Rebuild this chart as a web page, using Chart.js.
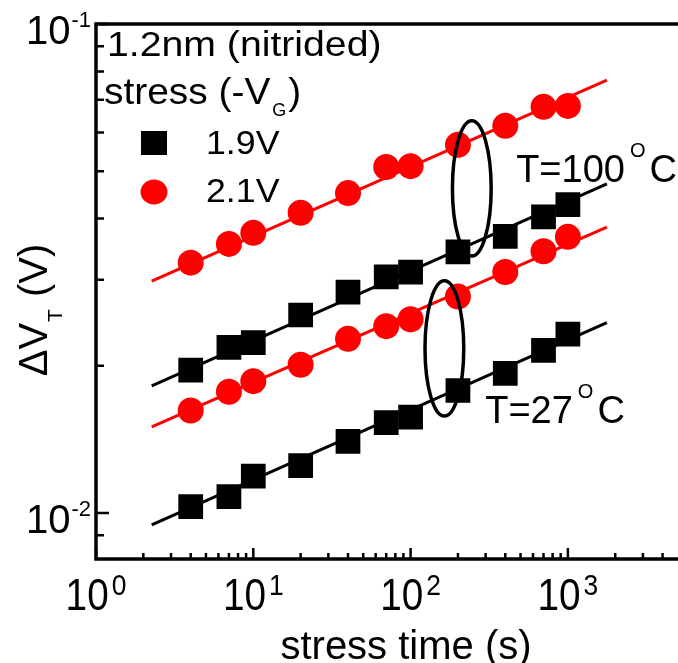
<!DOCTYPE html>
<html>
<head>
<meta charset="utf-8">
<script src="https://cdn.jsdelivr.net/npm/chart.js@4.4.1/dist/chart.umd.min.js"></script>
<style>
  html, body { margin: 0; padding: 0; background: #fff; }
  #wrap { width: 678px; height: 663px; }
</style>
</head>
<body>
<div id="wrap"><canvas id="chart" width="678" height="663"></canvas></div>
<script>
// stress time (s) of every measurement
const stressTimes = [4, 7, 10, 20, 40, 70, 100, 200, 400, 700, 1000];

// dVT (V)
const hot19V  = [0.0196, 0.0218, 0.0223, 0.0254, 0.0283, 0.0304, 0.0311, 0.0342, 0.0368, 0.0403, 0.0427];
const hot21V  = [0.0325, 0.0355, 0.0374, 0.0411, 0.0451, 0.0510, 0.0512, 0.0566, 0.0619, 0.0677, 0.0680];
const room19V = [0.0103, 0.0108, 0.0119, 0.0125, 0.0140, 0.0153, 0.0157, 0.0178, 0.0193, 0.0215, 0.0232];
const room21V = [0.0162, 0.0177, 0.0186, 0.0201, 0.0227, 0.0241, 0.0249, 0.0277, 0.0311, 0.0343, 0.0367];

// power-law fits (end points)
const fitTimes   = [2.26, 1770];
const fitHot19V  = [0.0182, 0.0471];
const fitHot21V  = [0.0298, 0.0768];
const fitRoom19V = [0.00945, 0.0245];
const fitRoom21V = [0.0150, 0.0384];

// axis ticks
const xTicks = [1, 10, 100, 1000];
const xTickExp = ['0', '1', '2', '3'];
const yTicks = [0.01, 0.1];
const yTickExp = ['-2', '-1'];

// temperature groups (ellipse centre, label anchor)
const groupNames = ['T=100', 'T=27'];
const groupT = [245, 164];
const groupV = [0.0461, 0.0217];
const groupLabelT = [469, 298];
const groupLabelV = [0.0475, 0.01528];

const FONT = '"Liberation Sans", Arial, sans-serif';

function pts(xs, ys) {
    return xs.map((t, i) => ({ x: t, y: ys[i] }));
}

function txt(ctx, s, x, y, size, sx = 1, align = 'left') {
    ctx.save();
    ctx.font = size + 'px ' + FONT;
    ctx.textAlign = 'left';
    ctx.textBaseline = 'alphabetic';
    ctx.fillStyle = '#000';
    const w = ctx.measureText(s).width * sx;
    const x0 = align === 'right' ? x - w : (align === 'center' ? x - w / 2 : x);
    ctx.translate(x0, y);
    ctx.scale(sx, 1);
    ctx.fillText(s, 0, 0);
    ctx.restore();
    return w;
}

function measure(ctx, s, size, sx = 1) {
    ctx.save();
    ctx.font = size + 'px ' + FONT;
    const w = ctx.measureText(s).width * sx;
    ctx.restore();
    return w;
}

const decor = {
    id: 'decor',
    afterDatasetsDraw(chart) {
        const { ctx, chartArea: a, scales: { x, y } } = chart;
        const edge = chart.width;
        ctx.save();

        // ellipses round each temperature group
        ctx.strokeStyle = '#000';
        ctx.lineWidth = 3.5;
        groupT.forEach((t, i) => {
            const cx = x.getPixelForValue(t);
            const cy = y.getPixelForValue(groupV[i]);
            const rx = x.getPixelForValue(t * 1.328) - cx;
            const ry = cy - y.getPixelForValue(groupV[i] * 1.375);
            ctx.beginPath();
            ctx.ellipse(cx, cy, rx, ry, 0, 0, Math.PI * 2);
            ctx.stroke();
        });

        // temperature labels
        groupNames.forEach((n, i) => {
            const lx = x.getPixelForValue(groupLabelT[i]);
            const ly = y.getPixelForValue(groupLabelV[i]);
            let w = txt(ctx, n, lx, ly, 38);
            w += 5;
            w += txt(ctx, 'O', lx + w, ly - 25, 20);
            w += 4;
            txt(ctx, 'C', lx + w, ly, 38);
        });

        // frame (left, top, bottom) running to the picture's edge
        ctx.lineWidth = 3.5;
        ctx.lineJoin = 'miter';
        ctx.beginPath();
        ctx.moveTo(edge, a.top);
        ctx.lineTo(a.left, a.top);
        ctx.lineTo(a.left, a.bottom);
        ctx.lineTo(edge, a.bottom);
        ctx.stroke();

        // inward ticks
        ctx.lineWidth = 2.5;
        ctx.beginPath();
        for (let d = 0; d <= 3; d++) {
            for (let m = 1; m <= 9; m++) {
                const px = x.getPixelForValue(m * Math.pow(10, d));
                if (px > edge - 2) break;
                const len = m === 1 ? 11 : 6;
                ctx.moveTo(px, a.bottom);
                ctx.lineTo(px, a.bottom - len);
            }
        }
        for (let d = -3; d <= -1; d++) {
            for (let m = 1; m <= 9; m++) {
                const v = m * Math.pow(10, d);
                if (v < y.min * 0.999 || v > y.max * 1.001) continue;
                const py = y.getPixelForValue(v);
                const len = m === 1 ? 13 : 8;
                ctx.moveTo(a.left, py);
                ctx.lineTo(a.left + len, py);
            }
        }
        ctx.stroke();

        // x tick labels
        xTicks.forEach((v, i) => {
            const px = x.getPixelForValue(v);
            const w10 = measure(ctx, '10', 44, 0.88);
            const ws = measure(ctx, xTickExp[i], 30, 0.88);
            const start = px - (w10 + 3 + ws) / 2;
            txt(ctx, '10', start, a.bottom + 51, 44, 0.88);
            txt(ctx, xTickExp[i], start + w10 + 3, a.bottom + 36, 30, 0.88);
        });

        // y tick labels
        yTicks.forEach((v, i) => {
            const py = y.getPixelForValue(v);
            const right = a.left - 5;
            const ws = txt(ctx, yTickExp[i], right, py + 3, 22, 1, 'right');
            txt(ctx, '10', right - ws - 1, py + 20, 40, 1, 'right');
        });

        // axis titles
        txt(ctx, 'stress time (s)', 406, a.bottom + 100, 40, 1, 'center');

        ctx.save();
        ctx.translate(a.left - 49, 310);
        ctx.rotate(-Math.PI / 2);
        const w1 = measure(ctx, '\u0394V', 40);
        const w2 = measure(ctx, 'T', 21);
        const w3 = measure(ctx, ' (V)', 40);
        let sx0 = -(w1 + w2 + w3 + 2) / 2;
        txt(ctx, '\u0394V', sx0, 0, 40);
        txt(ctx, 'T', sx0 + w1 + 1, 15, 21);
        txt(ctx, ' (V)', sx0 + w1 + w2 + 2, 0, 40);
        ctx.restore();

        // legend block
        txt(ctx, '1.2nm (nitrided)', a.left + 11, a.top + 32, 35, 1.12);
        let w = txt(ctx, 'stress (-V', a.left + 8, a.top + 80, 36, 1.08);
        w += txt(ctx, 'G', a.left + 10 + w, a.top + 92, 18);
        txt(ctx, ')', a.left + 12 + w, a.top + 80, 36, 1.08);

        ctx.fillStyle = '#000';
        ctx.fillRect(a.left + 45, a.top + 107, 26, 24);
        txt(ctx, '1.9V', a.left + 110, a.top + 130, 34, 1.05);
        ctx.fillStyle = '#ff0000';
        ctx.beginPath();
        ctx.ellipse(a.left + 58, a.top + 168, 13.5, 12.5, 0, 0, Math.PI * 2);
        ctx.fill();
        txt(ctx, '2.1V', a.left + 110, a.top + 178, 34, 1.05);

        ctx.restore();
    }
};

const lineStyle = { showLine: true, pointRadius: 0, borderWidth: 3, fill: false, order: 2 };
const sq = { pointStyle: 'rect', pointRadius: 17.5, backgroundColor: '#000', borderWidth: 0, showLine: false, order: 1 };
const dot = { pointStyle: 'circle', pointRadius: 13, backgroundColor: '#ff0000', borderWidth: 0, showLine: false, order: 1 };

new Chart(document.getElementById('chart'), {
    type: 'scatter',
    data: {
        datasets: [
            { ...sq, label: '1.9V 100C', data: pts(stressTimes, hot19V) },
            { ...dot, label: '2.1V 100C', data: pts(stressTimes, hot21V) },
            { ...sq, label: '1.9V 27C', data: pts(stressTimes, room19V) },
            { ...dot, label: '2.1V 27C', data: pts(stressTimes, room21V) },
            { ...lineStyle, borderColor: '#000', data: pts(fitTimes, fitHot19V) },
            { ...lineStyle, borderColor: '#ff0000', data: pts(fitTimes, fitHot21V) },
            { ...lineStyle, borderColor: '#000', data: pts(fitTimes, fitRoom19V) },
            { ...lineStyle, borderColor: '#ff0000', data: pts(fitTimes, fitRoom21V) }
        ]
    },
    options: {
        responsive: false,
        animation: false,
        layout: { padding: { left: 96, top: 24, right: 0, bottom: 104 } },
        plugins: { legend: { display: false }, tooltip: { enabled: false } },
        scales: {
            x: {
                type: 'logarithmic', min: 1, max: 3880,
                ticks: { display: false },
                grid: { display: false, drawTicks: false },
                border: { display: false },
                title: { display: false }
            },
            y: {
                type: 'logarithmic', min: 0.00805, max: 0.1,
                ticks: { display: false },
                grid: { display: false, drawTicks: false },
                border: { display: false },
                title: { display: false }
            }
        }
    },
    plugins: [decor]
});
</script>
</body>
</html>
